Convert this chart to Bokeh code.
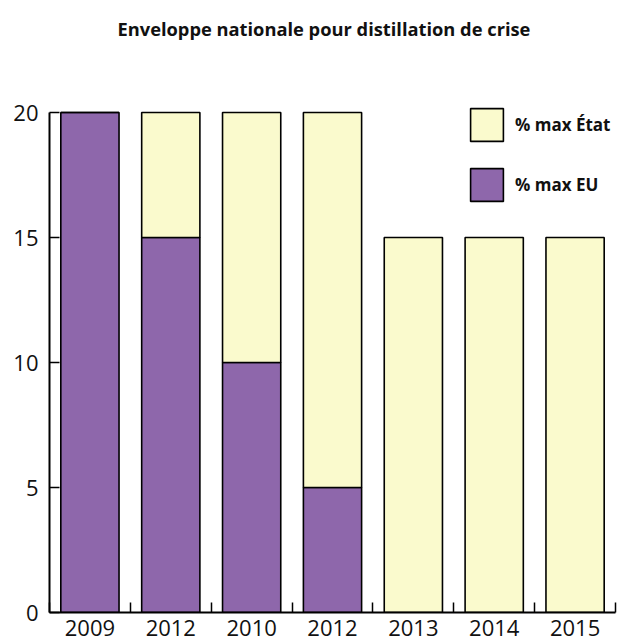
from bokeh.plotting import figure
from bokeh.models import ColumnDataSource, FixedTicker, Legend, LegendItem, Range1d, Title
from bokeh.embed import file_html
from bokeh.resources import INLINE

title_text = "Enveloppe nationale pour distillation de crise"
years = ["2009", "2012", "2010", "2012", "2013", "2014", "2015"]
eu = [20, 15, 10, 5, 0, 0, 0]
etat = [0, 5, 10, 15, 15, 15, 15]
y_ticks = [0, 5, 10, 15, 20]

xpos = [i + 0.5 for i in range(len(years))]
src = ColumnDataSource(dict(x=xpos, eu=eu, etat=etat))

FONT = "Open Sans"
PURPLE = "#8e67ab"
YELLOW = "#fafacd"

p = figure(width=617, height=640, output_backend="svg", toolbar_location=None,
           title=None,
           x_range=Range1d(0, len(years)), y_range=Range1d(0, 20.4),
           min_border_left=49, min_border_right=2, min_border_top=102,
           min_border_bottom=28)

spacer = Title(text=" ", text_font=FONT, text_font_size="10px", standoff=46)
p.add_layout(spacer, "above")
main_title = Title(text=title_text, align="left", offset=68, text_font=FONT,
                   text_font_style="bold", text_font_size="18.3px",
                   text_color="#111111", standoff=0)
p.add_layout(main_title, "above")

r = p.vbar_stack(["eu", "etat"], x="x", width=0.72, source=src,
                 fill_color=[PURPLE, YELLOW], line_color="black", line_width=1.6)

p.outline_line_color = None
p.xgrid.grid_line_color = None
p.ygrid.grid_line_color = None

xa = p.xaxis[0]
xa.ticker = FixedTicker(ticks=xpos, minor_ticks=list(range(len(years) + 1)))
xa.major_label_overrides = {x: y for x, y in zip(xpos, years)}
xa.major_tick_in = 0
xa.major_tick_out = 0
xa.minor_tick_in = 10
xa.minor_tick_out = 0
xa.minor_tick_line_color = "black"
xa.minor_tick_line_width = 1.5
xa.axis_line_width = 2
xa.axis_line_color = "black"
xa.major_label_text_font = FONT
xa.major_label_text_font_size = "22px"
xa.major_label_text_color = "#111111"
xa.major_label_standoff = 7

ya = p.yaxis[0]
ya.ticker = FixedTicker(ticks=y_ticks)
ya.bounds = (0, 20)
ya.major_tick_in = 10
ya.major_tick_out = 0
ya.minor_tick_line_color = None
ya.major_tick_line_width = 1.5
ya.axis_line_width = 2
ya.axis_line_color = "black"
ya.major_label_text_font = FONT
ya.major_label_text_font_size = "22px"
ya.major_label_text_color = "#111111"
ya.major_label_standoff = 11

legend = Legend(items=[LegendItem(label="% max État", renderers=[r[1]]),
                       LegendItem(label="% max EU", renderers=[r[0]])],
                location=(417, 407), orientation="vertical",
                glyph_width=41, glyph_height=41, spacing=19, padding=0, margin=0,
                label_standoff=8, label_text_font=FONT, label_text_font_style="bold",
                label_text_font_size="17px", label_text_color="#111111",
                border_line_color=None, background_fill_alpha=0)
p.add_layout(legend, "center")

open("out.html", "w").write(file_html(p, INLINE))
